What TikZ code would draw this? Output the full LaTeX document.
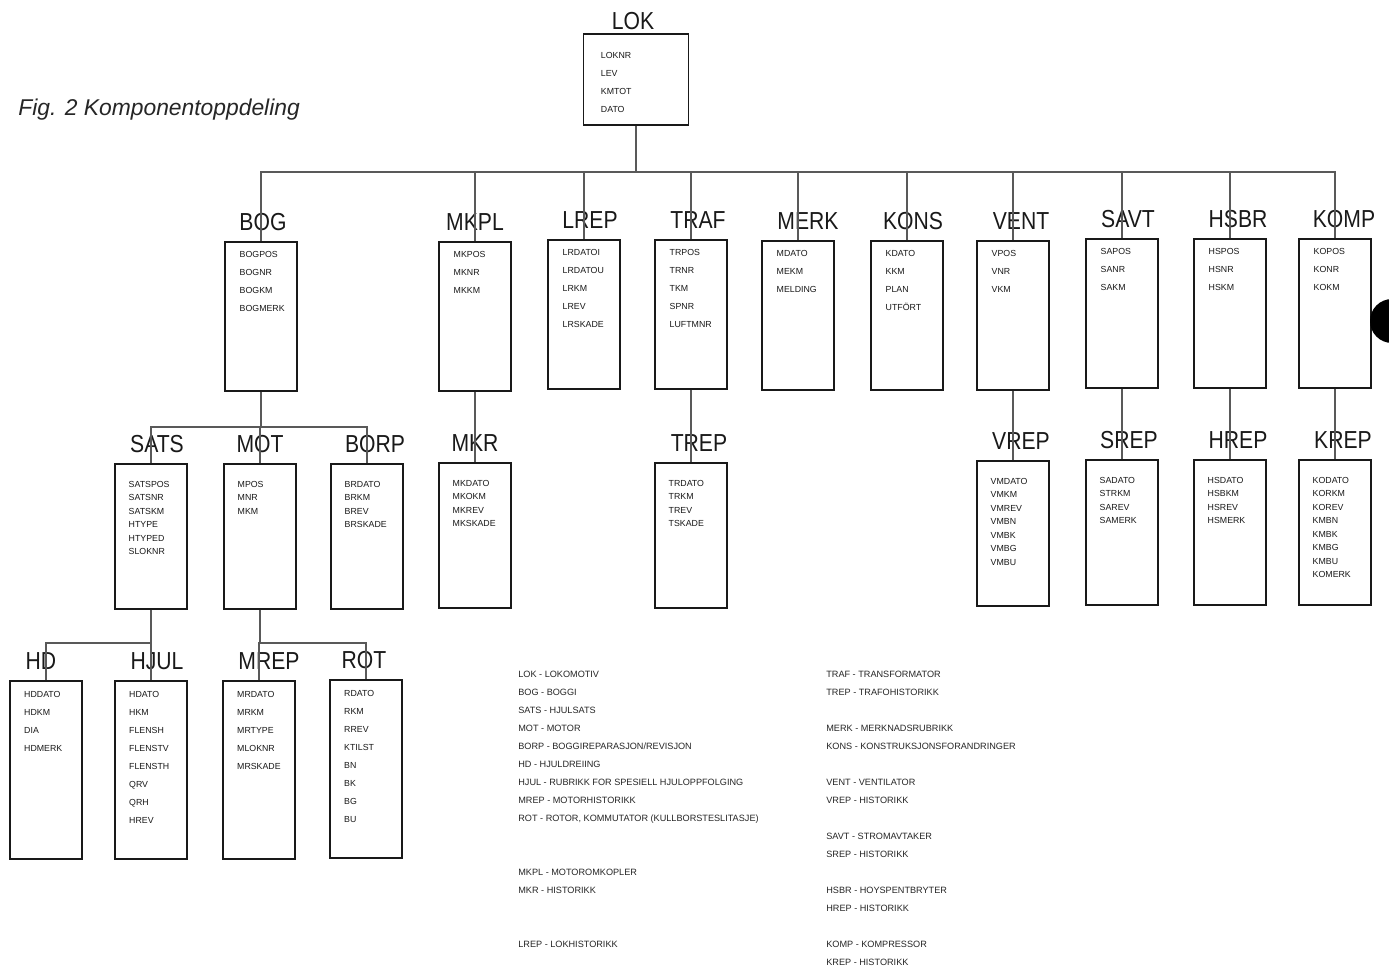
\documentclass[tikz,border=0pt]{standalone}
\usepackage{fontspec}
\setmainfont{Liberation Sans}
\newfontfamily\titlefont[FakeStretch=0.86]{Liberation Sans}
\usetikzlibrary{positioning}
\tikzset{
    komp/.style={
        rectangle,
        draw=black!90,
        line width=1pt,
        anchor=north,
        inner sep=0pt,
        minimum width=1.43cm
    },
    komp_lok/.style={komp, minimum width=2.1cm, minimum height=1.82cm},
    komp_a/.style={komp, minimum height=2.98cm},
    komp_b/.style={komp, minimum height=2.9cm},
    komp_c/.style={komp, minimum height=3.56cm},
    tittel/.style={
        inner sep=0pt,
        anchor=south,
        text=black!90,
        font=\titlefont\fontsize{14}{14}\selectfont
    },
    felt/.style={
        anchor=north west,
        inner sep=0pt,
        align=left,
        text=black!90,
        font=\fontsize{5}{10.24}\selectfont
    },
    felt_l/.style={felt, xshift=0.36cm, yshift=-0.39cm},
    felt_a/.style={felt, xshift=0.3cm, yshift=-0.21cm},
    felt_b/.style={felt, font=\fontsize{5}{7.68}\selectfont, xshift=0.28cm, yshift=-0.36cm},
    felt_c/.style={felt, xshift=0.29cm, yshift=-0.22cm},
    forkl/.style={
        anchor=north west,
        inner sep=0pt,
        align=left,
        text=black!85,
        font=\fontsize{5.2}{10.24}\selectfont
    },
    linje/.style={draw=black!65, line width=0.6pt}
}
% box, title above it, field list inside it
\newcommand{\komp}[6]{
    \node[#3] (#1) at #2 {};
    \node[tittel, above=0.2cm of #1.north, #5] (#1t) {#1};
    \node[#4] (#1f) at (#1.north west) {#6};
}

\begin{document}
\begin{tikzpicture}[x=0.02cm, y=-0.02cm]

\path[use as bounding box, clip] (0,0) rectangle (1389,966);
\fill[white] (0,0) rectangle (1389,966);

\node[anchor=base west, inner sep=0pt, text=black!85, font=\itshape\fontsize{13}{13}\selectfont] (figtittel) at (18,116) {Fig. 2 Komponentoppdeling};

% --- Top ---
\komp{LOK}{(636,33)}{komp_lok}{felt_l}{above=0.06cm of LOK.north, xshift=-0.06cm}{LOKNR\\LEV\\KMTOT\\DATO}

% --- Row 1 ---
\komp{BOG}{(261,241)}{komp_a}{felt_a}{xshift=0.04cm}{BOGPOS\\BOGNR\\BOGKM\\BOGMERK}
\komp{MKPL}{(475,241)}{komp_a}{felt_a}{xshift=0cm}{MKPOS\\MKNR\\MKKM}
\komp{LREP}{(584,239)}{komp_a}{felt_a}{xshift=0.12cm}{LRDATOI\\LRDATOU\\LRKM\\LREV\\LRSKADE}
\komp{TRAF}{(691,239)}{komp_a}{felt_a}{xshift=0.14cm}{TRPOS\\TRNR\\TKM\\SPNR\\LUFTMNR}
\komp{MERK}{(798,240)}{komp_a}{felt_a}{xshift=0.2cm}{MDATO\\MEKM\\MELDING}
\komp{KONS}{(907,240)}{komp_a}{felt_a}{xshift=0.12cm}{KDATO\\KKM\\PLAN\\UTFÖRT}
\komp{VENT}{(1013,240)}{komp_a}{felt_a}{xshift=0.16cm}{VPOS\\VNR\\VKM}
\komp{SAVT}{(1122,238)}{komp_a}{felt_a}{xshift=0.12cm}{SAPOS\\SANR\\SAKM}
\komp{HSBR}{(1230,238)}{komp_a}{felt_a}{xshift=0.16cm}{HSPOS\\HSNR\\HSKM}
\komp{KOMP}{(1335,238)}{komp_a}{felt_a}{xshift=0.18cm}{KOPOS\\KONR\\KOKM}

% --- Row 2 ---
\komp{SATS}{(151,463)}{komp_b}{felt_b}{xshift=0.12cm}{SATSPOS\\SATSNR\\SATSKM\\HTYPE\\HTYPED\\SLOKNR}
\komp{MOT}{(260,463)}{komp_b}{felt_b}{xshift=0cm}{MPOS\\MNR\\MKM}
\komp{BORP}{(367,463)}{komp_b}{felt_b}{xshift=0.16cm}{BRDATO\\BRKM\\BREV\\BRSKADE}
\komp{MKR}{(475,462)}{komp_b}{felt_b}{xshift=0cm}{MKDATO\\MKOKM\\MKREV\\MKSKADE}
\komp{TREP}{(691,462)}{komp_b}{felt_b}{xshift=0.16cm}{TRDATO\\TRKM\\TREV\\TSKADE}
\komp{VREP}{(1013,460)}{komp_b}{felt_b}{xshift=0.16cm}{VMDATO\\VMKM\\VMREV\\VMBN\\VMBK\\VMBG\\VMBU}
\komp{SREP}{(1122,459)}{komp_b}{felt_b}{xshift=0.14cm}{SADATO\\STRKM\\SAREV\\SAMERK}
\komp{HREP}{(1230,459)}{komp_b}{felt_b}{xshift=0.16cm}{HSDATO\\HSBKM\\HSREV\\HSMERK}
\komp{KREP}{(1335,459)}{komp_b}{felt_b}{xshift=0.16cm}{KODATO\\KORKM\\KOREV\\KMBN\\KMBK\\KMBG\\KMBU\\KOMERK}

% --- Row 3 ---
\komp{HD}{(46,680)}{komp_c}{felt_c}{xshift=-0.1cm}{HDDATO\\HDKM\\DIA\\HDMERK}
\komp{HJUL}{(151,680)}{komp_c}{felt_c}{xshift=0.12cm}{HDATO\\HKM\\FLENSH\\FLENSTV\\FLENSTH\\QRV\\QRH\\HREV}
\komp{MREP}{(259,680)}{komp_c}{felt_c}{xshift=0.2cm}{MRDATO\\MRKM\\MRTYPE\\MLOKNR\\MRSKADE}
\komp{ROT}{(366,679)}{komp_c}{felt_c}{xshift=-0.04cm}{RDATO\\RKM\\RREV\\KTILST\\BN\\BK\\BG\\BU}

% --- Connectors ---
\coordinate (buss1) at (636,172);
\coordinate (buss2) at (261,427);
\coordinate (buss3) at (151,643);
\coordinate (buss4) at (260,643);

\draw[linje] (LOK.south) -- (buss1);
\draw[linje] (BOG.north) |- (buss1);
\draw[linje] (MKPL.north) |- (buss1);
\draw[linje] (LREP.north) |- (buss1);
\draw[linje] (TRAF.north) |- (buss1);
\draw[linje] (MERK.north) |- (buss1);
\draw[linje] (KONS.north) |- (buss1);
\draw[linje] (VENT.north) |- (buss1);
\draw[linje] (SAVT.north) |- (buss1);
\draw[linje] (HSBR.north) |- (buss1);
\draw[linje] (KOMP.north) |- (buss1);

\draw[linje] (BOG.south) -- (buss2);
\draw[linje] (SATS.north) |- (buss2);
\draw[linje] (MOT.north) |- (buss2);
\draw[linje] (BORP.north) |- (buss2);

\draw[linje] (MKPL) -- (MKR);
\draw[linje] (TRAF) -- (TREP);
\draw[linje] (VENT) -- (VREP);
\draw[linje] (SAVT) -- (SREP);
\draw[linje] (HSBR) -- (HREP);
\draw[linje] (KOMP) -- (KREP);

\draw[linje] (SATS.south) -- (buss3);
\draw[linje] (HD.north) |- (buss3);
\draw[linje] (HJUL.north) |- (buss3);
\draw[linje] (MOT.south) -- (buss4);
\draw[linje] (MREP.north) |- (buss4);
\draw[linje] (ROT.north) |- (buss4);

% --- Abbreviations ---
\node[forkl] (forkl1) at (518,671) {LOK - LOKOMOTIV\\BOG - BOGGI\\SATS - HJULSATS\\MOT - MOTOR\\BORP - BOGGIREPARASJON/REVISJON\\HD - HJULDREIING\\HJUL - RUBRIKK FOR SPESIELL HJULOPPFOLGING\\MREP - MOTORHISTORIKK\\ROT - ROTOR, KOMMUTATOR (KULLBORSTESLITASJE)\\\mbox{}\\\mbox{}\\MKPL - MOTOROMKOPLER\\MKR - HISTORIKK\\\mbox{}\\\mbox{}\\LREP - LOKHISTORIKK};
\node[forkl] (forkl2) at (826,671) {TRAF - TRANSFORMATOR\\TREP - TRAFOHISTORIKK\\\mbox{}\\MERK - MERKNADSRUBRIKK\\KONS - KONSTRUKSJONSFORANDRINGER\\\mbox{}\\VENT - VENTILATOR\\VREP - HISTORIKK\\\mbox{}\\SAVT - STROMAVTAKER\\SREP - HISTORIKK\\\mbox{}\\HSBR - HOYSPENTBRYTER\\HREP - HISTORIKK\\\mbox{}\\KOMP - KOMPRESSOR\\KREP - HISTORIKK};

% punch hole at the right edge
\fill[black] (1392,321) circle[radius=0.44cm];

\end{tikzpicture}
\end{document}
